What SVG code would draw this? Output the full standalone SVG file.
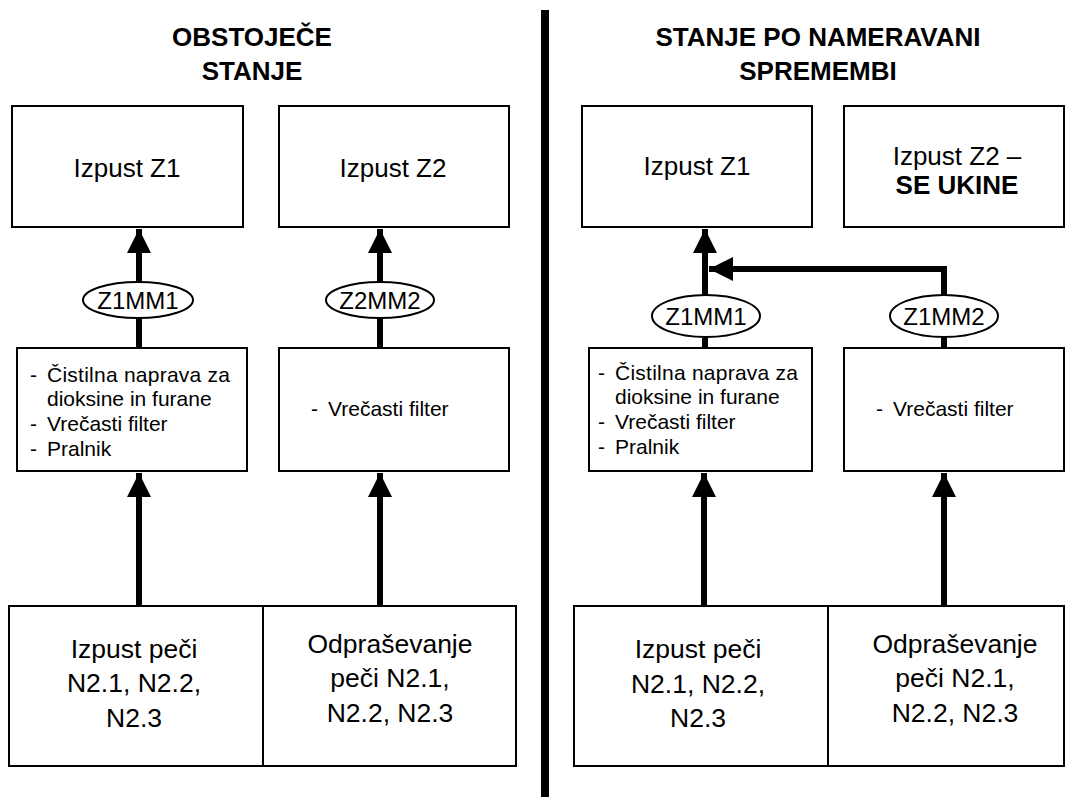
<svg xmlns="http://www.w3.org/2000/svg" width="1066" height="797" viewBox="0 0 1066 797">
<style>
.box{fill:#fff;stroke:#000;stroke-width:2}
.ell{fill:#fff;stroke:#000;stroke-width:2}
.t{font-family:"Liberation Sans",Arial,sans-serif;fill:#000}
.lbl{font-size:26px;text-anchor:middle}
.bl{font-size:26.5px;text-anchor:middle}
.ttl{font-size:26px;font-weight:bold;text-anchor:middle}
.lst{font-size:21px}
.el{font-size:24px;text-anchor:middle}
.con{stroke:#000;stroke-width:6;fill:none}
</style>
<defs>
<marker id="ah" viewBox="0 0 10 10" refX="10" refY="5" markerWidth="4" markerHeight="4" markerUnits="strokeWidth" orient="auto">
<path d="M0,0 L10,5 L0,10 Z" fill="#000"/>
</marker>
</defs>
<rect width="1066" height="797" fill="#fff"/>
<g id="divider"><rect x="541" y="10" width="8" height="787" fill="#000"/></g>
<g id="title-left" class="t ttl"><text x="252" y="46">OBSTOJEČE</text><text x="252" y="80">STANJE</text></g>
<g id="title-right" class="t ttl"><text x="818" y="46">STANJE PO NAMERAVANI</text><text x="818" y="80">SPREMEMBI</text></g>
<g id="connectors">
<line class="con" x1="139" y1="282" x2="139" y2="229" marker-end="url(#ah)"/>
<line class="con" x1="139" y1="348" x2="139" y2="318"/>
<line class="con" x1="139" y1="606" x2="139" y2="473" marker-end="url(#ah)"/>
<line class="con" x1="380" y1="282" x2="380" y2="229" marker-end="url(#ah)"/>
<line class="con" x1="380" y1="348" x2="380" y2="318"/>
<line class="con" x1="380" y1="606" x2="380" y2="473" marker-end="url(#ah)"/>
<line class="con" x1="705" y1="295" x2="705" y2="229" marker-end="url(#ah)"/>
<line class="con" x1="705" y1="348" x2="705" y2="338"/>
<line class="con" x1="704" y1="606" x2="704" y2="473" marker-end="url(#ah)"/>
<polyline class="con" points="944,295 944,269 709,269" marker-end="url(#ah)"/>
<line class="con" x1="944" y1="348" x2="944" y2="338"/>
<line class="con" x1="944" y1="606" x2="944" y2="473" marker-end="url(#ah)"/>
</g>
<g id="z1-left"><rect class="box" x="12" y="106" width="231" height="121"/><text class="t lbl" x="127" y="177">Izpust Z1</text></g>
<g id="z2-left"><rect class="box" x="279" y="106" width="230" height="121"/><text class="t lbl" x="393" y="177">Izpust Z2</text></g>
<g id="z1mm1-left"><ellipse class="ell" cx="138" cy="300" rx="55" ry="18"/><text class="t el" x="138" y="308.5">Z1MM1</text></g>
<g id="z2mm2-left"><ellipse class="ell" cx="380" cy="300" rx="54" ry="18"/><text class="t el" x="380" y="308.5">Z2MM2</text></g>
<g id="clean-left"><rect class="box" x="17" y="348" width="230" height="123"/>
<text class="t lst" x="30" y="382">-</text><text class="t lst" x="47" y="382" textLength="183">Čistilna naprava za</text>
<text class="t lst" x="47" y="406">dioksine in furane</text>
<text class="t lst" x="30" y="431">-</text><text class="t lst" x="47" y="431">Vrečasti filter</text>
<text class="t lst" x="30" y="456">-</text><text class="t lst" x="47" y="456">Pralnik</text></g>
<g id="filter-left"><rect class="box" x="279" y="348" width="230" height="123"/>
<text class="t lst" x="311" y="416">-</text><text class="t lst" x="328" y="416">Vrečasti filter</text></g>
<g id="src-left"><rect class="box" x="9" y="606" width="507" height="160"/><line x1="263" y1="606" x2="263" y2="766" stroke="#000" stroke-width="2"/>
<text class="t bl" x="134" y="658">Izpust peči</text><text class="t bl" x="134" y="692">N2.1, N2.2,</text><text class="t bl" x="134" y="727">N2.3</text>
<text class="t bl" x="390" y="653">Odpraševanje</text><text class="t bl" x="390" y="687">peči N2.1,</text><text class="t bl" x="390" y="722">N2.2, N2.3</text></g>
<g id="z1-right"><rect class="box" x="582" y="106" width="230" height="121"/><text class="t lbl" x="697" y="175">Izpust Z1</text></g>
<g id="z2-right"><rect class="box" x="844" y="106" width="220" height="121"/><text class="t lbl" x="957" y="165">Izpust Z2 –</text><text class="t lbl" x="957" y="194" font-weight="bold">SE UKINE</text></g>
<g id="z1mm1-right"><ellipse class="ell" cx="706" cy="316" rx="54" ry="21"/><text class="t el" x="706" y="324.5">Z1MM1</text></g>
<g id="z1mm2-right"><ellipse class="ell" cx="944" cy="316" rx="54" ry="21"/><text class="t el" x="944" y="324.5">Z1MM2</text></g>
<g id="clean-right"><rect class="box" x="589" y="348" width="223" height="123"/>
<text class="t lst" x="598" y="380">-</text><text class="t lst" x="615" y="380" textLength="183">Čistilna naprava za</text>
<text class="t lst" x="615" y="404">dioksine in furane</text>
<text class="t lst" x="598" y="429">-</text><text class="t lst" x="615" y="429">Vrečasti filter</text>
<text class="t lst" x="598" y="454">-</text><text class="t lst" x="615" y="454">Pralnik</text></g>
<g id="filter-right"><rect class="box" x="844" y="348" width="220" height="123"/>
<text class="t lst" x="876" y="416">-</text><text class="t lst" x="893" y="416">Vrečasti filter</text></g>
<g id="src-right"><rect class="box" x="574" y="606" width="490" height="160"/><line x1="828" y1="606" x2="828" y2="766" stroke="#000" stroke-width="2"/>
<text class="t bl" x="698" y="658">Izpust peči</text><text class="t bl" x="698" y="693">N2.1, N2.2,</text><text class="t bl" x="698" y="727">N2.3</text>
<text class="t bl" x="955" y="653">Odpraševanje</text><text class="t bl" x="955" y="687">peči N2.1,</text><text class="t bl" x="955" y="722">N2.2, N2.3</text></g>
</svg>
